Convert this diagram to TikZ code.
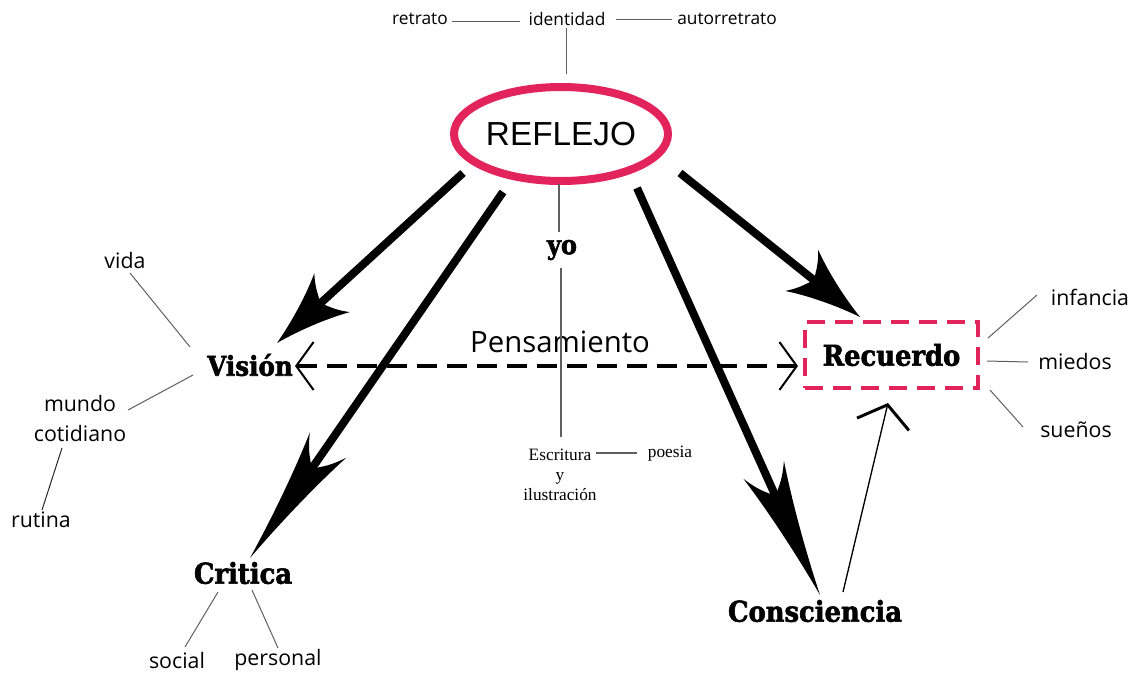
\documentclass[tikz,border=0pt]{standalone}
\usepackage{fontspec}
\setmainfont{Open Sans}
\newfontfamily\reflfont{Liberation Sans}
\newfontfamily\heavyfont{DejaVu Serif}[FakeStretch=0.9, BoldFeatures={FakeBold=2}]
\newfontfamily\smallserif{Liberation Serif}
\usetikzlibrary{arrows.meta,shapes.geometric}
\definecolor{crimson}{RGB}{226,35,92}
\definecolor{thingray}{RGB}{95,95,95}

\pgfdeclarearrow{
  name = Swept,
  parameters = {\the\pgfarrowlength,\the\pgfarrowwidth},
  setup code = {
    \pgfarrowssettipend{0pt}
    \pgfarrowssetbackend{-\pgfarrowlength}
    \pgfarrowssetvisualbackend{-0.8\pgfarrowlength}
    \pgfarrowssetlineend{-0.75\pgfarrowlength}
    \pgfarrowssavethe\pgfarrowlength
    \pgfarrowssavethe\pgfarrowwidth
  },
  drawing code = {
    \pgfpathmoveto{\pgfpointorigin}
    \pgfpathcurveto
      {\pgfqpoint{-0.3\pgfarrowlength}{0.1\pgfarrowwidth}}
      {\pgfqpoint{-0.68\pgfarrowlength}{0.28\pgfarrowwidth}}
      {\pgfqpoint{-\pgfarrowlength}{0.52\pgfarrowwidth}}
    \pgfpathcurveto
      {\pgfqpoint{-0.84\pgfarrowlength}{0.24\pgfarrowwidth}}
      {\pgfqpoint{-0.84\pgfarrowlength}{0.1\pgfarrowwidth}}
      {\pgfqpoint{-0.78\pgfarrowlength}{0pt}}
    \pgfpathcurveto
      {\pgfqpoint{-0.84\pgfarrowlength}{-0.1\pgfarrowwidth}}
      {\pgfqpoint{-0.84\pgfarrowlength}{-0.24\pgfarrowwidth}}
      {\pgfqpoint{-\pgfarrowlength}{-0.52\pgfarrowwidth}}
    \pgfpathcurveto
      {\pgfqpoint{-0.68\pgfarrowlength}{-0.28\pgfarrowwidth}}
      {\pgfqpoint{-0.3\pgfarrowlength}{-0.1\pgfarrowwidth}}
      {\pgfpointorigin}
    \pgfpathclose
    \pgfusepathqfill
  },
  defaults = {length=54pt, width=35pt}
}

\tikzset{
  lbl/.style={inner sep=0pt, align=center, font=\fontsize{16pt}{22.5pt}\selectfont},
  toplbl/.style={inner sep=0pt, font=\fontsize{13pt}{16pt}\selectfont},
  heavy/.style={inner sep=0pt, font=\heavyfont\bfseries\fontsize{21.5pt}{24pt}\selectfont},
  serifsmall/.style={inner sep=0pt, align=center, font=\smallserif\fontsize{13pt}{15pt}\selectfont},
  thinline/.style={draw=thingray, line width=0.75pt},
  centerline/.style={draw=thingray, line width=1.1pt},
  shortarrow/.style={line width=6pt, -{Swept[length=56pt,width=38pt]}},
  longarrow/.style={line width=6pt, -{Swept[length=103pt,width=32pt]}},
  dashline/.style={line width=3pt, dash pattern=on 15pt off 7.5pt},
  reflstyle/.style={ellipse, draw=crimson, line width=6pt, minimum width=160.5pt,
    minimum height=70.5pt, inner sep=0pt, font=\reflfont\fontsize{25pt}{30pt}\selectfont},
  recbox/.style={draw=crimson, line width=3pt, dash pattern=on 13.5pt off 7.5pt,
    minimum width=129.75pt, minimum height=49.5pt, inner sep=0pt,
    font=\heavyfont\bfseries\fontsize{21.5pt}{24pt}\selectfont}
}

\begin{document}
\begin{tikzpicture}[x=0.75pt,y=-0.75pt]
\useasboundingbox (0,0) rectangle (1141,675);

% nodes
\node[toplbl] (retrato) at (420,19) {retrato};
\node[toplbl] (identidad) at (567,19) {identidad};
\node[toplbl] (autorretrato) at (727,19) {autorretrato};
\node[reflstyle] (reflejo) at (561,134) {REFLEJO};
\node[heavy, font=\heavyfont\bfseries\fontsize{20pt}{24pt}\selectfont] (yo) at (562,250) {yo};
\node[inner sep=0pt, font=\fontsize{22pt}{26pt}\selectfont] (pens) at (560,342) {Pensamiento};
\node[serifsmall] (escr) at (560,475) {Escritura\\y\\ilustración};
\node[serifsmall] (poesia) at (670,454) {poesia};
\node[heavy, font=\heavyfont\bfseries\fontsize{20.5pt}{24pt}\selectfont] (vision) at (250,365) {Visión};
\node[recbox] (recuerdo) at (891.5,355) {Recuerdo};
\node[lbl] (infancia) at (1090,297) {infancia};
\node[lbl] (miedos) at (1075,361) {miedos};
\node[lbl] (suenos) at (1076,430) {sueños};
\node[heavy] (critica) at (243,573) {Critica};
\node[lbl] (social) at (177,660) {social};
\node[lbl] (personal) at (278,660) {personal};
\node[lbl] (vida) at (125,260) {vida};
\node[lbl] (mundo) at (80,418) {mundo\\cotidiano};
\node[lbl] (rutina) at (41,520) {rutina};
\node[heavy] (consciencia) at (815,611) {Consciencia};

% thin connectors
\draw[thinline] ([shift={(32,2)}]retrato.center) -- ([shift={(-47,2)}]identidad.center);
\draw[thinline] ([shift={(49,0)}]identidad.center) -- ([shift={(-55,0)}]autorretrato.center);
\draw[thinline] ([shift={(-1,9)}]identidad.center) -- ([shift={(5,-60)}]reflejo.center);
\draw[centerline] ([shift={(-2,50)}]reflejo.center) -- ([shift={(-3,-18)}]yo.center);
\draw[centerline] ([shift={(-1,18)}]yo.center) -- ([shift={(1,-38)}]escr.center);
\draw[thinline, line width=1pt] ([shift={(36,-22)}]escr.center) -- ([shift={(-33,-1)}]poesia.center);
\draw[thinline] ([shift={(5,13)}]vida.center) -- ([shift={(-60,-18)}]vision.center);
\draw[thinline] ([shift={(48,-8)}]mundo.center) -- ([shift={(-57,10)}]vision.center);
\draw[thinline, draw=black!85] ([shift={(-18,30)}]mundo.center) -- ([shift={(1,-10)}]rutina.center);
\draw[thinline] ([shift={(-25,19)}]critica.center) -- ([shift={(8,-13)}]social.center);
\draw[thinline] ([shift={(9,17)}]critica.center) -- ([shift={(0,-12)}]personal.center);
\draw[thinline] ([shift={(96.5,-17)}]recuerdo.center) -- ([shift={(-53,-2)}]infancia.center);
\draw[thinline] ([shift={(95.5,6)}]recuerdo.center) -- ([shift={(-47,1)}]miedos.center);
\draw[thinline] ([shift={(98.5,35)}]recuerdo.center) -- ([shift={(-53,-3)}]suenos.center);

% thin arrow consciencia -> recuerdo
\draw[line width=1pt, -{Straight Barb[length=15pt,width=40pt,line width=2.2pt]}]
  ([shift={(28,-19)}]consciencia.center) -- ([shift={(-3.5,48)}]recuerdo.center);

% dashed double arrow
\draw[dashline, {Straight Barb[length=13pt,width=36pt,line width=1.5pt]}-{Straight Barb[length=13pt,width=36pt,line width=1.5pt]}]
  ([shift={(45,1)}]vision.center) -- ([shift={(-93.5,11)}]recuerdo.center);

% big arrows
\draw[shortarrow] ([shift={(-98,39)}]reflejo.center) -- ([shift={(27,-22)}]vision.center);
\draw[longarrow] ([shift={(-58,58)}]reflejo.center) -- ([shift={(7,-15)}]critica.center);
\draw[longarrow] ([shift={(76,54)}]reflejo.center) -- ([shift={(5,-16)}]consciencia.center);
\draw[shortarrow] ([shift={(119,39)}]reflejo.center) -- ([shift={(-31.5,-38)}]recuerdo.center);
\end{tikzpicture}
\end{document}
